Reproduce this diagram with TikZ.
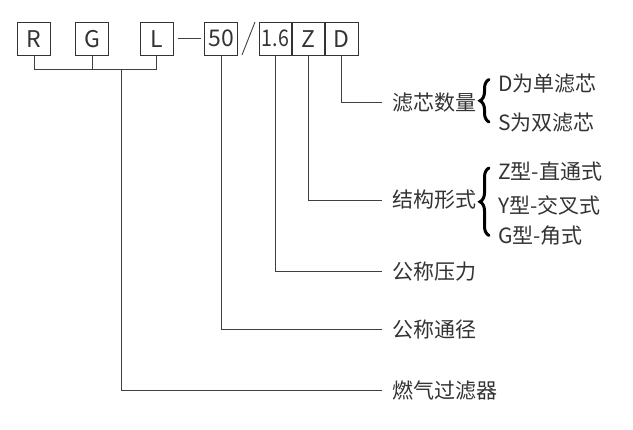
\documentclass[tikz,border=0pt]{standalone}
\usepackage{fontspec}
\setmainfont{Noto Sans CJK SC}
\usetikzlibrary{decorations.pathreplacing}
\begin{document}
\begin{tikzpicture}[x=1pt,y=-1pt,
  cell/.style={draw=black!80, line width=0.8pt, minimum width=33pt, minimum height=33pt,
    inner sep=0pt, text=black!80, font=\fontsize{23}{23}\selectfont},
  lbl/.style={anchor=west, inner xsep=10pt, inner ysep=0pt, text=black!80,
    font=\fontsize{21}{21}\selectfont},
  opt/.style={anchor=west, inner sep=0pt, text=black!80, font=\fontsize{21}{21}\selectfont},
  wire/.style={draw=black!75, line width=0.9pt},
  curly/.style={decorate, decoration={brace, amplitude=9pt}, line width=3pt, line cap=round}]
  \useasboundingbox (0,0) rectangle (633,430);
  % code boxes
  \node[cell] (r) at (34.2,38.8) {R};
  \node[cell] (g) at (92,38.8) {G};
  \node[cell] (l) at (156.5,38.8) {L};
  \node[cell] (d50) at (221.3,38.8) {50};
  \node[cell] (p16) at (275.5,38.8) {\scalebox{0.85}[1]{1.6}};
  \node[cell] (z) at (308.3,38.8) {Z};
  \node[cell] (d) at (341.5,38.8) {D};
  \draw[wire] ([xshift=5pt]l.east) -- ([xshift=-3pt]d50.west);
  \draw[wire] (242,55) -- (255,22);
  % labels
  \node[lbl] (cnt) at (382,102.7) {滤芯数量};
  \node[lbl] (form) at (382,200) {结构形式};
  \node[lbl] (pres) at (382,271.3) {公称压力};
  \node[lbl] (dia) at (382,329.3) {公称通径};
  \node[lbl] (name) at (382,390.3) {燃气过滤器};
  % connectors
  \draw[wire] (d.south) |- (cnt.west);
  \draw[wire] (z.south) |- (form.west);
  \draw[wire] (p16.south) |- (pres.west);
  \draw[wire] (d50.south) |- (dia.west);
  \coordinate (join) at (121.7,69.3);
  \draw[wire] (r.south) |- (join) -| (l.south);
  \draw[wire] (g.south) -- (g.south |- join);
  \draw[wire] (join) |- (name.west);
  % options
  \draw[curly] (489,122) -- (489,79.5);
  \node[opt] (o1) at (498,84) {D为单滤芯};
  \node[opt] (o2) at (498,122.5) {S为双滤芯};
  \draw[curly] (489,235.5) -- (489,168);
  \node[opt] (o3) at (498,171.7) {Z型-直通式};
  \node[opt] (o4) at (498,205) {Y型-交叉式};
  \node[opt] (o5) at (498,236) {G型-角式};
\end{tikzpicture}
\end{document}
